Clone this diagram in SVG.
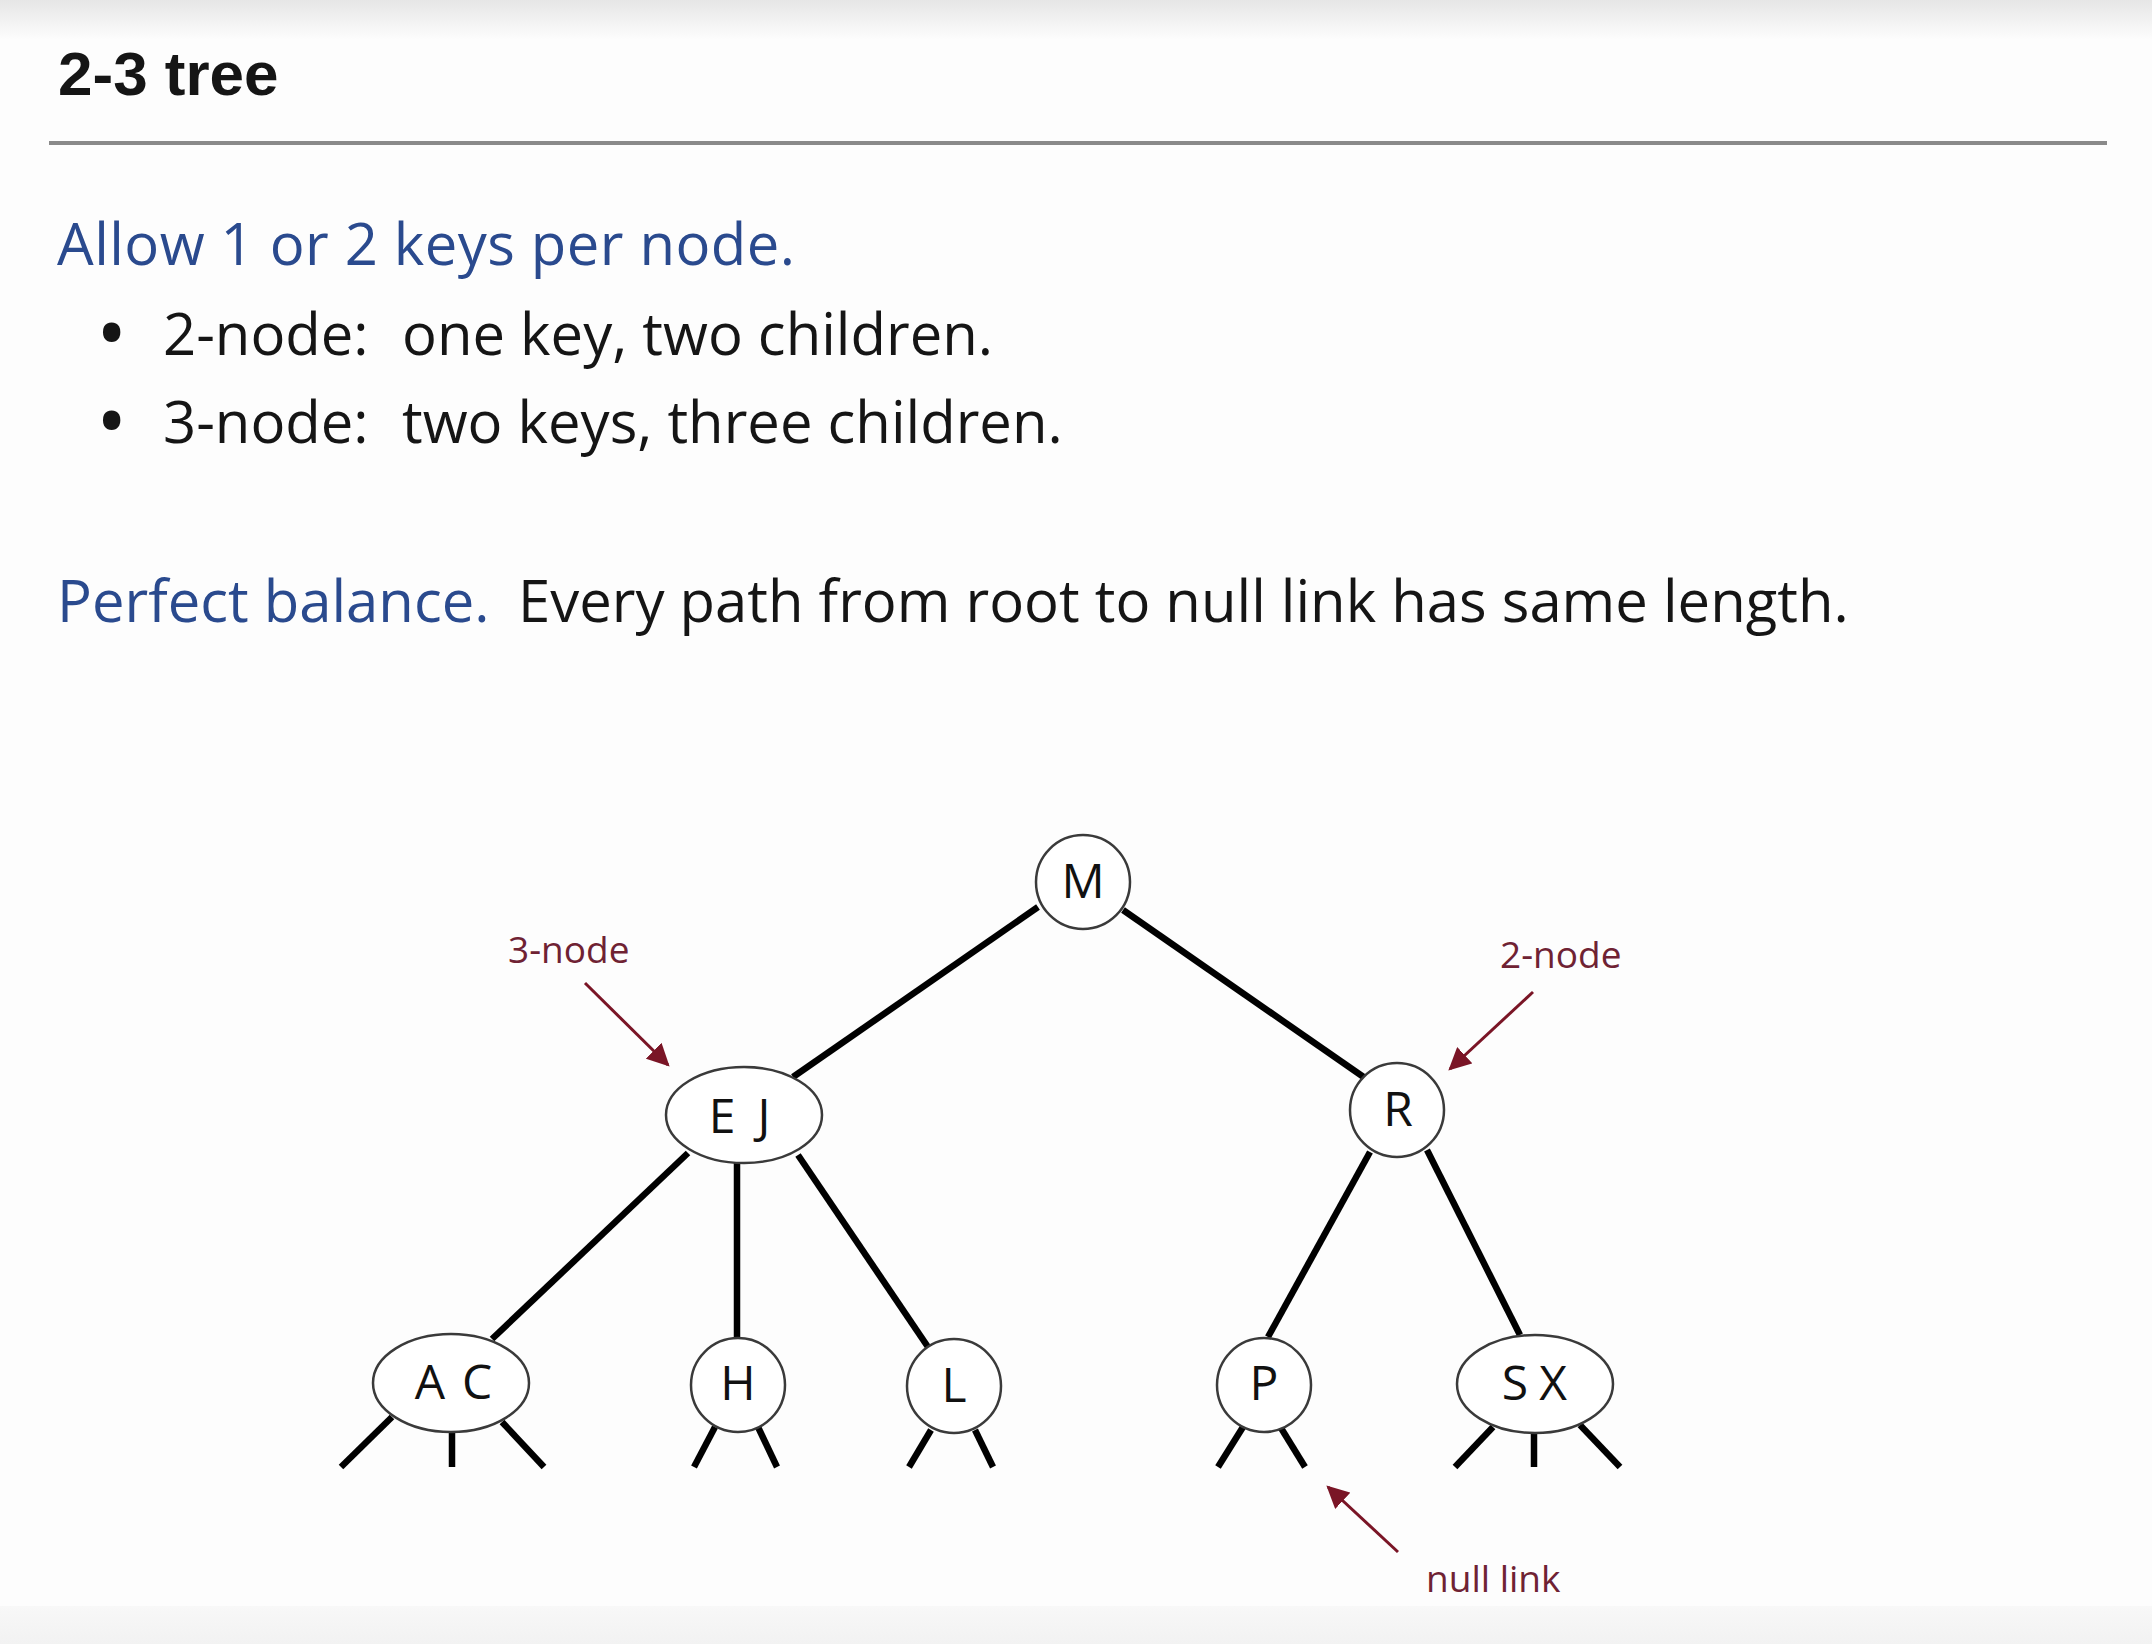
<svg xmlns="http://www.w3.org/2000/svg" width="2152" height="1644" viewBox="0 0 2152 1644">
  <defs>
    <linearGradient id="topfade" x1="0" y1="0" x2="0" y2="1">
      <stop offset="0" stop-color="#e6e6e6"/>
      <stop offset="1" stop-color="#fdfdfd"/>
    </linearGradient>
    <linearGradient id="botfade" x1="0" y1="0" x2="0" y2="1">
      <stop offset="0" stop-color="#f8f8f8"/>
      <stop offset="1" stop-color="#f2f2f2"/>
    </linearGradient>
    <marker id="arr" viewBox="0 0 10 10" refX="9" refY="5" markerWidth="7.5" markerHeight="7.5" markerUnits="strokeWidth" orient="auto">
      <path d="M0,0 L10,5 L0,10 z" fill="#7a1526"/>
    </marker>
    <style>
      .title { font-family: "Liberation Sans", Arial, sans-serif; font-weight: bold; font-size: 62px; fill: #151515; }
      .body { font-family: "Open Sans", "Liberation Sans", sans-serif; font-size: 58px; fill: #151515; }
      .bullet { font-weight: bold; font-size: 62px; }
      .blue { fill: #2a4a8e; }
      .note { font-family: "Open Sans", "Liberation Sans", sans-serif; font-size: 37px; fill: #6f2233; }
      .key { font-family: "Open Sans", "Liberation Sans", sans-serif; font-size: 48px; fill: #111; text-anchor: middle; }
      .node { fill: #ffffff; stroke: #3a3a3a; stroke-width: 2.5; }
      .edge { stroke: #000; stroke-width: 6.5; fill: none; }
      .ptr { stroke: #7a1526; stroke-width: 3; fill: none; marker-end: url(#arr); }
    </style>
  </defs>

  <rect x="0" y="0" width="2152" height="1644" fill="#fdfdfd"/>
  <rect x="0" y="0" width="2152" height="40" fill="url(#topfade)"/>
  <rect x="0" y="1606" width="2152" height="38" fill="url(#botfade)"/>

  <g id="header">
    <text class="title" x="58" y="95">2-3 tree</text>
    <line x1="49" y1="143" x2="2107" y2="143" stroke="#8a8a8a" stroke-width="4"/>
  </g>

  <g id="text-block">
    <text class="body blue" x="57" y="265" textLength="738" lengthAdjust="spacing">Allow 1 or 2 keys per node.</text>
    <text class="body"><tspan class="bullet" x="100" y="355">•</tspan><tspan x="163" y="355">2-node:</tspan><tspan x="402" y="355">one key, two children.</tspan></text>
    <text class="body"><tspan class="bullet" x="100" y="443">•</tspan><tspan x="163" y="443">3-node:</tspan><tspan x="402" y="443">two keys, three children.</tspan></text>
    <text class="body"><tspan class="blue" x="57" y="622">Perfect balance.</tspan><tspan x="518" y="622">Every path from root to null link has same length.</tspan></text>
  </g>

  <g id="connectors">
    <line class="edge" x1="1038" y1="907" x2="793" y2="1077"/>
    <line class="edge" x1="1123" y1="910" x2="1365" y2="1078"/>
    <line class="edge" x1="688" y1="1153" x2="492" y2="1339"/>
    <line class="edge" x1="737" y1="1163" x2="737" y2="1337"/>
    <line class="edge" x1="798" y1="1155" x2="928" y2="1347"/>
    <line class="edge" x1="1370" y1="1152" x2="1268" y2="1337"/>
    <line class="edge" x1="1427" y1="1150" x2="1520" y2="1335"/>
    <!-- null links -->
    <line class="edge" x1="392" y1="1417" x2="341" y2="1467"/>
    <line class="edge" x1="452" y1="1430" x2="452" y2="1467"/>
    <line class="edge" x1="502" y1="1422" x2="544" y2="1467"/>
    <line class="edge" x1="715" y1="1427" x2="694" y2="1467"/>
    <line class="edge" x1="758" y1="1427" x2="777" y2="1467"/>
    <line class="edge" x1="931" y1="1430" x2="909" y2="1467"/>
    <line class="edge" x1="975" y1="1430" x2="993" y2="1467"/>
    <line class="edge" x1="1243" y1="1427" x2="1218" y2="1467"/>
    <line class="edge" x1="1281" y1="1428" x2="1305" y2="1467"/>
    <line class="edge" x1="1493" y1="1427" x2="1455" y2="1467"/>
    <line class="edge" x1="1534" y1="1431" x2="1534" y2="1467"/>
    <line class="edge" x1="1580" y1="1425" x2="1620" y2="1467"/>
  </g>

  <g id="node-M">
    <circle class="node" cx="1083" cy="882" r="47"/>
    <text class="key" x="1083" y="898">M</text>
  </g>
  <g id="node-EJ">
    <ellipse class="node" cx="744" cy="1115" rx="78" ry="48"/>
    <text class="key"><tspan x="722" y="1133">E</tspan><tspan x="764" y="1133">J</tspan></text>
  </g>
  <g id="node-R">
    <circle class="node" cx="1397" cy="1110" r="47"/>
    <text class="key" x="1398" y="1126">R</text>
  </g>
  <g id="node-AC">
    <ellipse class="node" cx="451" cy="1383" rx="78" ry="49"/>
    <text class="key"><tspan x="430" y="1399">A</tspan><tspan x="477" y="1399">C</tspan></text>
  </g>
  <g id="node-H">
    <circle class="node" cx="738" cy="1385" r="47"/>
    <text class="key" x="738" y="1400">H</text>
  </g>
  <g id="node-L">
    <circle class="node" cx="954" cy="1386" r="47"/>
    <text class="key" x="954" y="1402">L</text>
  </g>
  <g id="node-P">
    <circle class="node" cx="1264" cy="1385" r="47"/>
    <text class="key" x="1264" y="1400">P</text>
  </g>
  <g id="node-SX">
    <ellipse class="node" cx="1535" cy="1384" rx="78" ry="49"/>
    <text class="key"><tspan x="1515" y="1400">S</tspan><tspan x="1553" y="1400">X</tspan></text>
  </g>

  <g id="annotation-3node">
    <text class="note" x="508" y="963">3-node</text>
    <line class="ptr" x1="585" y1="983" x2="668" y2="1065"/>
  </g>
  <g id="annotation-2node">
    <text class="note" x="1500" y="968">2-node</text>
    <line class="ptr" x1="1533" y1="992" x2="1450" y2="1069"/>
  </g>
  <g id="annotation-null">
    <text class="note" x="1426" y="1592">null link</text>
    <line class="ptr" x1="1398" y1="1552" x2="1328" y2="1487"/>
  </g>
</svg>
